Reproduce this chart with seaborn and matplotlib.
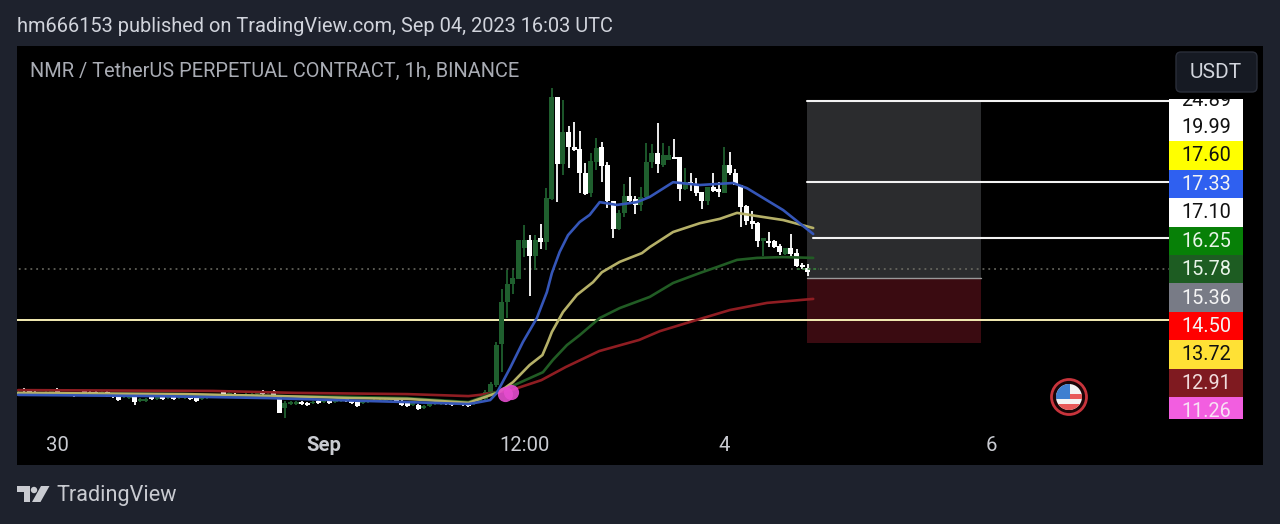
import pandas as pd
import matplotlib
matplotlib.use("Agg")
import matplotlib.pyplot as plt
from matplotlib.patches import Rectangle, Circle, FancyBboxPatch, Polygon
import seaborn as sns

# candles, one per hour, hour 0 = Sep 1 00:00
hours = list(range(-55, 88))
opens = [12.67, 12.77, 12.72, 12.69, 12.64, 12.64, 12.67, 12.77, 12.67, 12.64,
         12.64, 12.62, 12.72, 12.69, 12.69, 12.64, 12.69, 12.64, 12.59, 12.57,
         12.54, 12.57, 12.47, 12.47, 12.57, 12.52, 12.57, 12.54, 12.57, 12.54,
         12.54, 12.57, 12.54, 12.52, 12.54, 12.57, 12.59, 12.69, 12.64, 12.64,
         12.59, 12.62, 12.62, 12.64, 12.72, 12.67, 12.72, 12.57, 12.29, 12.39,
         12.39, 12.44, 12.42, 12.42, 12.47, 12.44, 12.47, 12.44, 12.47, 12.52,
         12.47, 12.44, 12.42, 12.44, 12.47, 12.47, 12.47, 12.49, 12.54, 12.47,
         12.42, 12.37, 12.37, 12.29, 12.34, 12.39, 12.39, 12.47, 12.44, 12.39,
         12.44, 12.42, 12.39, 12.47,
         12.52, 12.69, 12.87, 13.90, 14.95, 15.40, 15.53, 16.31, 16.51, 16.11,
         16.56, 16.46, 17.54, 20.10, 18.42, 19.22, 18.84, 18.79, 18.19, 17.69,
         18.47, 18.84, 18.39, 17.49, 16.78, 17.19, 17.61, 17.54, 17.39, 17.59,
         18.47, 18.69, 18.39, 18.52, 18.59, 18.59, 17.79, 17.96, 17.89, 17.71,
         17.49, 17.84, 17.79, 17.69, 18.39, 18.19, 17.89, 17.36, 16.98, 16.93,
         16.48, 16.48, 16.48, 16.36, 16.16, 16.31, 16.18, 15.88, 15.81]
highs = [12.72, 12.80, 12.75, 12.72, 12.70, 12.72, 12.75, 12.80, 12.70, 12.70,
         12.67, 12.70, 12.75, 12.72, 12.72, 12.72, 12.72, 12.67, 12.62, 12.65,
         12.62, 12.60, 12.55, 12.55, 12.60, 12.60, 12.60, 12.60, 12.60, 12.60,
         12.62, 12.60, 12.57, 12.57, 12.60, 12.62, 12.65, 12.72, 12.70, 12.67,
         12.65, 12.67, 12.67, 12.70, 12.75, 12.72, 12.75, 12.60, 12.47, 12.47,
         12.47, 12.47, 12.45, 12.47, 12.50, 12.50, 12.52, 12.52, 12.55, 12.47,
         12.50, 12.47, 12.50, 12.50, 12.52, 12.52, 12.52, 12.55, 12.57, 12.50,
         12.45, 12.45, 12.40, 12.37, 12.42, 12.45, 12.45, 12.50, 12.47, 12.45,
         12.47, 12.45, 12.47, 12.55,
         12.74, 12.94, 13.95, 15.28, 15.76, 15.76, 16.51, 16.88, 16.63, 16.63,
         16.91, 17.81, 20.32, 20.10, 20.02, 19.37, 19.47, 19.24, 18.44, 18.69,
         19.07, 18.97, 18.47, 17.49, 17.26, 17.91, 18.09, 17.61, 17.84, 18.94,
         18.92, 19.45, 18.94, 18.87, 19.04, 18.59, 18.32, 18.19, 18.06, 17.71,
         17.84, 18.19, 17.96, 18.84, 18.72, 18.29, 17.89, 17.39, 17.24, 16.96,
         16.56, 16.71, 16.51, 16.41, 16.31, 16.66, 16.28, 15.93, 15.91]
lows = [12.64, 12.69, 12.66, 12.59, 12.61, 12.61, 12.64, 12.64, 12.59, 12.61,
        12.56, 12.59, 12.64, 12.61, 12.61, 12.61, 12.56, 12.54, 12.46, 12.54,
        12.51, 12.37, 12.44, 12.44, 12.49, 12.49, 12.49, 12.51, 12.49, 12.51,
        12.51, 12.49, 12.44, 12.49, 12.51, 12.54, 12.56, 12.59, 12.61, 12.54,
        12.56, 12.59, 12.59, 12.61, 12.61, 12.64, 12.54, 12.17, 12.04, 12.36,
        12.36, 12.36, 12.34, 12.39, 12.39, 12.41, 12.39, 12.41, 12.44, 12.44,
        12.39, 12.31, 12.39, 12.41, 12.44, 12.44, 12.44, 12.46, 12.44, 12.34,
        12.31, 12.34, 12.24, 12.26, 12.31, 12.36, 12.36, 12.36, 12.34, 12.36,
        12.34, 12.31, 12.36, 12.44,
        12.49, 12.67, 12.82, 13.19, 14.55, 15.15, 15.53, 16.08, 15.10, 15.76,
        16.28, 16.26, 17.51, 17.46, 18.14, 18.32, 18.74, 17.69, 17.64, 17.59,
        18.27, 17.96, 17.31, 16.56, 16.76, 17.09, 17.46, 17.16, 17.24, 17.56,
        18.32, 18.19, 18.34, 18.52, 18.54, 17.49, 17.76, 17.74, 17.61, 17.29,
        17.39, 17.71, 17.59, 17.69, 18.14, 17.89, 16.83, 16.88, 16.78, 16.33,
        16.11, 16.33, 16.31, 16.13, 16.13, 16.11, 15.83, 15.78, 15.60]
closes = [12.69, 12.72, 12.69, 12.62, 12.67, 12.69, 12.72, 12.67, 12.62, 12.67,
          12.59, 12.67, 12.67, 12.64, 12.64, 12.69, 12.59, 12.57, 12.49, 12.62,
          12.59, 12.44, 12.52, 12.52, 12.52, 12.57, 12.52, 12.57, 12.52, 12.57,
          12.59, 12.52, 12.47, 12.54, 12.57, 12.59, 12.62, 12.62, 12.67, 12.57,
          12.62, 12.64, 12.64, 12.67, 12.64, 12.69, 12.57, 12.17, 12.42, 12.44,
          12.44, 12.39, 12.37, 12.44, 12.42, 12.47, 12.42, 12.49, 12.49, 12.47,
          12.42, 12.34, 12.47, 12.47, 12.49, 12.49, 12.49, 12.52, 12.47, 12.37,
          12.34, 12.42, 12.27, 12.34, 12.39, 12.42, 12.42, 12.39, 12.37, 12.42,
          12.37, 12.34, 12.44, 12.52,
          12.69, 12.89, 13.87, 14.95, 15.40, 15.55, 16.51, 16.51, 16.11, 16.51,
          16.46, 17.56, 20.10, 18.42, 19.22, 18.84, 18.77, 18.19, 17.66, 18.49,
          18.82, 18.37, 17.49, 16.78, 17.19, 17.61, 17.49, 17.39, 17.59, 18.47,
          18.69, 18.42, 18.64, 18.64, 18.54, 17.79, 17.96, 17.89, 17.69, 17.49,
          17.84, 17.74, 17.71, 18.39, 18.19, 17.89, 17.34, 16.98, 16.91, 16.48,
          16.56, 16.43, 16.33, 16.21, 16.31, 16.16, 15.86, 15.83, 15.70]

# moving averages, read at their bends
blue_hours = [-55, -30, -10, 7, 15, 26, 28, 29.9, 31.1, 33.5, 35.8, 38.3, 40.1, 41,
              42.4, 43.9, 46, 47.8, 49.6, 52.7, 56.3, 58.6, 62.8, 67.6, 73.6, 76.1, 82.6, 88]
blue_ma = [12.62, 12.59, 12.54, 12.47, 12.44, 12.39, 12.44, 12.49, 12.67, 13.30, 13.95, 14.55, 15.20, 15.68,
           16.21, 16.63, 16.96, 17.14, 17.46, 17.39, 17.46, 17.59, 17.96, 17.89, 17.94, 17.81, 17.26, 16.66]
yellow_hours = [-55, -25, -8, 5, 15, 26, 31.5, 34, 37, 39.3, 40.3, 41, 43, 45.5, 48.4, 50,
                53.2, 57.2, 58.6, 62.8, 67.6, 71.2, 74.3, 77.9, 82.6, 88]
yellow_ma = [12.67, 12.64, 12.59, 12.54, 12.52, 12.42, 12.69, 12.94, 13.37, 13.62, 13.95, 14.20, 14.70, 15.13, 15.45, 15.70,
             15.96, 16.18, 16.33, 16.71, 16.93, 17.04, 17.19, 17.11, 17.01, 16.81]
green_hours = [-55, -25, -8, 5, 15, 26, 33.5, 39.4, 41.2, 43.7, 46, 49.6, 53.2, 58.6,
               62.8, 67.6, 70.7, 74.3, 77.9, 82.6, 88]
green_ma = [12.64, 12.62, 12.59, 12.57, 12.54, 12.44, 12.82, 13.19, 13.50, 13.87, 14.12, 14.55, 14.80, 15.08,
            15.43, 15.68, 15.83, 16.01, 16.06, 16.08, 16.06]
red_hours = [-55, -20, -5, 15, 26, 28, 33.7, 39.1, 43.5, 49.5, 56.7, 60.4, 67, 73, 79.7, 88]
red_ma = [12.74, 12.72, 12.67, 12.64, 12.59, 12.62, 12.74, 12.99, 13.32, 13.72, 14.00, 14.22, 14.50, 14.75, 14.93, 15.03]

# levels and the position box
last_price = 15.78
yellow_level = 14.50
target_levels = [20.00, 17.96, 16.56]
box_hours = [86.9, 118.2]
box_top = 20.00
box_entry = 15.55
box_stop = 13.92
signal_hours = [32.6, 33.6]
signal_prices = [12.65, 12.70]

# right hand price tags
tag_values = ["24.89", "19.99", "17.60", "17.33", "17.10", "16.25", "15.78", "15.36", "14.50", "13.72", "12.91", "11.26"]
tag_fill = ["#ffffff", "#ffffff", "#ffff00", "#2f60f0", "#ffffff", "#078007", "#1d5c22", "#787b86", "#ff0000", "#ffe135", "#7f1a20", "#f25ee0"]
tag_text = ["#111111", "#111111", "#111111", "#f4f4f4", "#111111", "#e8f4e8", "#e8f4e8", "#f4f4f4", "#f4f4f4", "#111111", "#f0dcdc", "#f8e0f4"]
tick_hours = [-48, 0, 36, 72, 120]
tick_labels = ["30", "Sep", "12:00", "4", "6"]

BG = "#1e222d"
UP = "#1f5f2e"
DOWN = "#ffffff"

sns.set_theme(style="dark")
plt.rcParams["font.family"] = ["Roboto", "DejaVu Sans"]

fig = plt.figure(figsize=(12.8, 5.24), dpi=100, facecolor=BG)
ax = fig.add_axes([17 / 1280, 1 - 465 / 524, 1246 / 1280, 419 / 524], facecolor="black")

candles = pd.DataFrame({"hour": hours, "open": opens, "high": highs, "low": lows, "close": closes})
candles["color"] = [UP if c >= o else DOWN for o, c in zip(opens, closes)]
candles["top"] = candles[["open", "close"]].max(axis=1)
candles["bottom"] = candles[["open", "close"]].min(axis=1)

# position box goes under everything
ax.fill_between(box_hours, box_entry, box_top, color="#2b2c2e", lw=0, zorder=1)
ax.fill_between(box_hours, box_stop, box_entry, color="#3a0b11", lw=0, zorder=1)
ax.plot(box_hours, [box_entry, box_entry], color="#9a9a9a", lw=1, zorder=2)

ax.plot([-56, 152], [last_price, last_price], color="#6f6f66", lw=1.1, ls=(0, (1.2, 2.6)), zorder=2)
ax.plot([-56, 152], [yellow_level, yellow_level], color="#f5eeb4", lw=1.4, zorder=3)
ax.plot([86.9, 152], [target_levels[0]] * 2, color="#f2f2f2", lw=1.5, zorder=3)
ax.plot([86.9, 152], [target_levels[1]] * 2, color="#f2f2f2", lw=1.5, zorder=3)
ax.plot([88, 152], [target_levels[2]] * 2, color="#f2f2f2", lw=1.5, zorder=3)

# green candles first, white ones on top
for col in [UP, DOWN]:
    part = candles[candles["color"] == col]
    ax.vlines(part["hour"], part["low"], part["high"], color=col, lw=1.3, zorder=4)
    ax.bar(part["hour"], (part["top"] - part["bottom"]).clip(lower=0.03), bottom=part["bottom"],
           width=0.9, color=col, lw=0, zorder=4)

ax.plot([85, 89], [last_price, last_price], color="#2f7a35", lw=1.1, ls=(0, (2, 1.5)), zorder=5)

for xs, ys, col in [(red_hours, red_ma, "#8f1d22"), (green_hours, green_ma, "#215c24"),
                    (yellow_hours, yellow_ma, "#b5b068"), (blue_hours, blue_ma, "#3556b8")]:
    sns.lineplot(x=xs, y=ys, color=col, lw=1.9, ax=ax, sort=False, errorbar=None, zorder=6)

ax.scatter(signal_hours, signal_prices, s=120, color="#e64dd0", lw=0, alpha=0.9, zorder=7)

ax.set_xlim(-55.2, 168.9)
ax.set_ylim(10.86, 21.38)
ax.set_yticks([])
ax.set_xticks(tick_hours)
ax.set_xticklabels(tick_labels, color="#c9cbd1", fontsize=14.6)
ax.get_xticklabels()[1].set_fontweight("bold")
ax.tick_params(axis="x", length=0, pad=-21)
ax.set_xlabel("")
ax.set_ylabel("")
for s in ax.spines.values():
    s.set_visible(False)

# page furniture in pixel coordinates
over = fig.add_axes([0, 0, 1, 1], facecolor="none", zorder=5)
over.set_xlim(0, 1280)
over.set_ylim(524, 0)
over.axis("off")

tag_y = [85.8, 113, 141, 169.6, 198, 226.6, 255, 283.4, 311.8, 340, 368.6, 397]
for val, fill, txt, y in zip(tag_values, tag_fill, tag_text, tag_y):
    over.add_patch(Rectangle((1169, y), 74, 28.6, color=fill, lw=0))
    over.text(1206.5, y + 14.6, val, color=txt, fontsize=14.3, ha="center", va="center")
# tags are cut off at both ends of the scale
over.add_patch(Rectangle((1165, 46), 82, 52.7, color="black", lw=0, zorder=3))
over.add_patch(Rectangle((1165, 419), 82, 30, color="black", lw=0, zorder=3))

over.add_patch(FancyBboxPatch((1179, 55), 75, 34, boxstyle="round,pad=3,rounding_size=5",
                              fc="#161a23", ec="#2a2e39", lw=1, zorder=4))
over.text(1216, 72.5, "USDT", color="#d1d4dc", fontsize=15, ha="center", va="center", zorder=5)

over.text(17, 26, "hm666153 published on TradingView.com, Sep 04, 2023 16:03 UTC",
          color="#d1d4dc", fontsize=14.37, va="center")
over.text(30, 71.5, "NMR / TetherUS PERPETUAL CONTRACT, 1h, BINANCE",
          color="#a9acb4", fontsize=14.45, va="center")
over.text(56, 496, "TradingView", color="#c9cbd1", fontsize=15.6, va="center")

# logo
over.add_patch(Rectangle((17, 486), 13, 6, color="#c9cbd1", lw=0))
over.add_patch(Rectangle((23.5, 486), 6.5, 16, color="#c9cbd1", lw=0))
over.add_patch(Circle((34, 490), 3.2, color="#c9cbd1", lw=0))
over.add_patch(Polygon([[41, 486], [49.5, 486], [40.5, 502], [32, 502]], color="#c9cbd1", lw=0))

# flag badge
over.add_patch(Circle((1069, 397), 17.5, fc="#1a0507", ec="#c8343c", lw=2))
disc = Circle((1069, 397), 13, transform=over.transData)
for y, h, col in [(384, 26, "#f4f4f4"), (394, 5, "#e85a5a"), (404, 6, "#e85a5a")]:
    over.add_patch(Rectangle((1056, y), 26, h, color=col, lw=0, clip_path=disc))
over.add_patch(Rectangle((1056, 384), 14, 15, color="#3f7fd0", lw=0, clip_path=disc))

plt.savefig("out.png", dpi=100, facecolor=BG)
